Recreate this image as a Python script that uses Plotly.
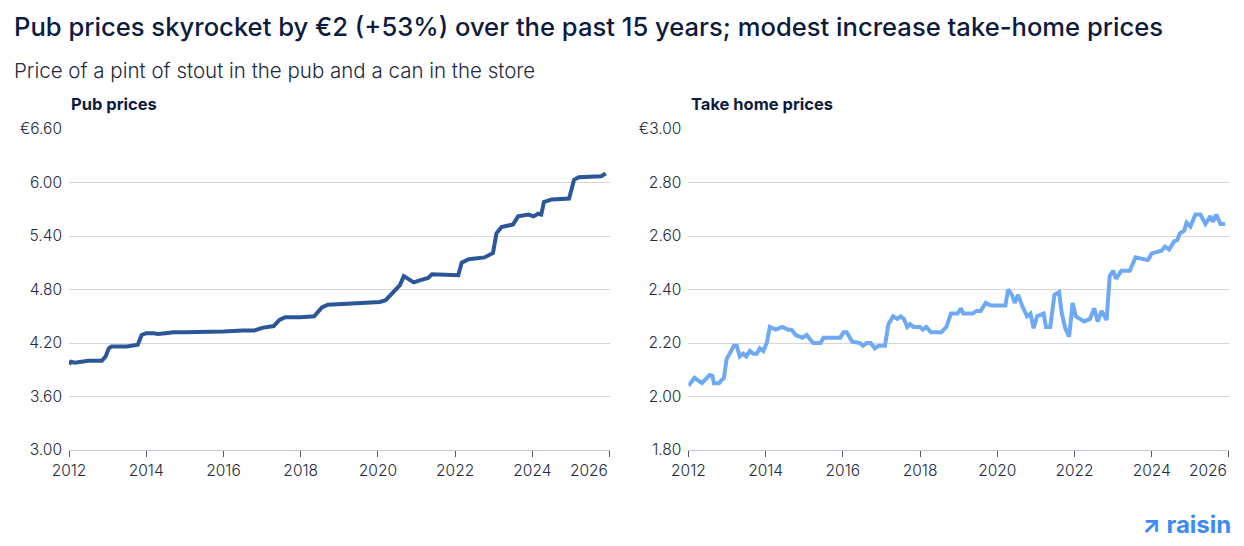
import plotly.graph_objects as go

# ---- data ----
pub_years = [2012.0, 2012.05, 2012.15, 2012.3, 2012.5, 2012.85, 2012.95, 2013.03, 2013.1, 2013.5,
             2013.7, 2013.78, 2013.88, 2014.0, 2014.2, 2014.3, 2014.5, 2014.7, 2015.0, 2015.5,
             2015.8, 2016.0, 2016.5, 2016.8, 2017.0, 2017.3, 2017.45, 2017.6, 2018.0, 2018.35,
             2018.55, 2018.7, 2019.2, 2019.7, 2020.05, 2020.2, 2020.44, 2020.57, 2020.67, 2020.93,
             2021.06, 2021.3, 2021.4, 2021.9, 2022.08, 2022.17, 2022.35, 2022.76, 2022.98, 2023.07,
             2023.2, 2023.5, 2023.63, 2023.9, 2024.03, 2024.15, 2024.23, 2024.3, 2024.5, 2024.95,
             2025.08, 2025.2, 2025.5, 2025.78, 2025.9]
pub_prices = [3.96, 3.99, 3.98, 3.99, 4.00, 4.00, 4.05, 4.14, 4.16, 4.16,
              4.17, 4.18, 4.29, 4.31, 4.31, 4.30, 4.31, 4.32, 4.32, 4.32,
              4.33, 4.33, 4.34, 4.34, 4.37, 4.39, 4.46, 4.49, 4.49, 4.50,
              4.60, 4.63, 4.64, 4.65, 4.66, 4.68, 4.79, 4.85, 4.95, 4.88,
              4.90, 4.93, 4.97, 4.96, 4.96, 5.10, 5.14, 5.16, 5.21, 5.43,
              5.50, 5.53, 5.62, 5.64, 5.62, 5.65, 5.64, 5.78, 5.81, 5.82,
              6.03, 6.06, 6.06, 6.07, 6.10]

home_years = [2012.0, 2012.16, 2012.35, 2012.55, 2012.62, 2012.66, 2012.79, 2012.92, 2012.99, 2013.07,
              2013.18, 2013.25, 2013.33, 2013.42, 2013.5, 2013.59, 2013.68, 2013.77, 2013.85, 2013.94,
              2014.03, 2014.11, 2014.26, 2014.43, 2014.58, 2014.67, 2014.78, 2014.95, 2015.06, 2015.23,
              2015.42, 2015.5, 2015.93, 2016.02, 2016.1, 2016.24, 2016.45, 2016.52, 2016.62, 2016.72,
              2016.83, 2016.92, 2017.09, 2017.18, 2017.3, 2017.41, 2017.5, 2017.58, 2017.67, 2017.74,
              2017.83, 2018.0, 2018.07, 2018.16, 2018.28, 2018.55, 2018.68, 2018.8, 2018.97, 2019.06,
              2019.12, 2019.36, 2019.46, 2019.57, 2019.7, 2019.83, 2020.21, 2020.28, 2020.38, 2020.45,
              2020.54, 2020.64, 2020.77, 2020.86, 2020.94, 2021.03, 2021.2, 2021.26, 2021.37, 2021.48,
              2021.6, 2021.67, 2021.76, 2021.86, 2021.95, 2022.03, 2022.14, 2022.25, 2022.4, 2022.51,
              2022.6, 2022.7, 2022.83, 2022.91, 2023.0, 2023.08, 2023.21, 2023.43, 2023.58, 2023.9,
              2024.0, 2024.15, 2024.25, 2024.34, 2024.45, 2024.58, 2024.66, 2024.73, 2024.84, 2024.9,
              2025.0, 2025.13, 2025.26, 2025.39, 2025.52, 2025.58, 2025.67, 2025.78, 2025.9]
home_prices = [2.04, 2.07, 2.05, 2.08, 2.077, 2.05, 2.05, 2.07, 2.14, 2.16,
               2.19, 2.19, 2.15, 2.16, 2.15, 2.17, 2.16, 2.16, 2.18, 2.17,
               2.20, 2.26, 2.25, 2.26, 2.25, 2.25, 2.23, 2.22, 2.23, 2.20,
               2.20, 2.22, 2.22, 2.24, 2.24, 2.205, 2.20, 2.19, 2.20, 2.20,
               2.18, 2.19, 2.19, 2.27, 2.30, 2.29, 2.30, 2.29, 2.26, 2.27,
               2.26, 2.26, 2.25, 2.26, 2.24, 2.24, 2.26, 2.31, 2.31, 2.33,
               2.31, 2.31, 2.32, 2.32, 2.35, 2.34, 2.34, 2.40, 2.38, 2.35,
               2.38, 2.34, 2.30, 2.31, 2.255, 2.30, 2.31, 2.26, 2.26, 2.38,
               2.39, 2.31, 2.255, 2.224, 2.35, 2.30, 2.29, 2.28, 2.29, 2.33,
               2.28, 2.32, 2.286, 2.45, 2.47, 2.44, 2.47, 2.47, 2.52, 2.51,
               2.535, 2.54, 2.545, 2.56, 2.55, 2.58, 2.585, 2.61, 2.62, 2.65,
               2.635, 2.68, 2.68, 2.645, 2.675, 2.653, 2.68, 2.645, 2.645]

year_ticks = [2012, 2014, 2016, 2018, 2020, 2022, 2024, 2026]
year_labels = ["2012", "2014", "2016", "2018", "2020", "2022", "2024", ""]
pub_ticks = [3.00, 3.60, 4.20, 4.80, 5.40, 6.00, 6.60]
pub_labels = ["3.00", "3.60", "4.20", "4.80", "5.40", "6.00", "€6.60"]
home_ticks = [1.80, 2.00, 2.20, 2.40, 2.60, 2.80, 3.00]
home_labels = ["1.80", "2.00", "2.20", "2.40", "2.60", "2.80", "€3.00"]

# ---- layout geometry (page has an 8px body margin) ----
OFF = 8
W, H = 1236, 538
L, R, T, B = 58, 15, 121, 96
PW, PH = W - L - R, H - T - B
BOTTOM = H - B  # plot bottom in figure px


def px(p):  # screen x -> paper
    return (p - OFF - L) / PW


def py(q):  # screen y -> paper
    return (BOTTOM - (q - OFF)) / PH


NAVY = "#0d1b3e"
TXT = "#222a40"
GRID = "#d3d6de"
FONT = "Inter"

fig = go.Figure()
fig.add_trace(go.Scatter(x=pub_years, y=pub_prices, mode="lines",
                         line=dict(color="#2b5698", width=4), xaxis="x", yaxis="y",
                         hoverinfo="skip", showlegend=False))
fig.add_trace(go.Scatter(x=home_years, y=home_prices, mode="lines",
                         line=dict(color="#6ea9f5", width=4), xaxis="x2", yaxis="y2",
                         hoverinfo="skip", showlegend=False))

tickfont = dict(family=FONT, size=15.5, color=TXT, weight=350)
xcommon = dict(range=[2012, 2026], tickmode="array", tickvals=year_ticks, ticktext=year_labels,
               showgrid=False, zeroline=False, showline=True, linecolor="#c3c7cf", linewidth=1,
               ticks="outside", ticklen=6, tickcolor="#555a63", tickwidth=1,
               tickfont=tickfont, fixedrange=True)
ycommon = dict(tickmode="array", showgrid=True, gridcolor=GRID, gridwidth=1, zeroline=False,
               showline=False, ticks="", tickfont=tickfont, ticklabelstandoff=6,
               fixedrange=True)

fig.update_layout(
    width=W, height=H, margin=dict(l=L, r=R, t=T, b=B),
    paper_bgcolor="white", plot_bgcolor="white",
    xaxis=dict(domain=[0, px(608)], anchor="y", **xcommon),
    yaxis=dict(range=[3.0, 6.6], tickvals=pub_ticks, ticktext=pub_labels, anchor="x", **ycommon),
    xaxis2=dict(domain=[px(687), 1], anchor="y2", **xcommon),
    yaxis2=dict(range=[1.8, 3.0], tickvals=home_ticks, ticktext=home_labels, anchor="x2", **ycommon),
    font=dict(family=FONT, color=TXT),
)

ann = []
ann.append(dict(text="Pub prices skyrocket by €2 (+53%) over the past 15 years; modest increase take-home prices",
                x=px(9), y=py(27), xref="paper", yref="paper", xanchor="left", yanchor="middle",
                showarrow=False, font=dict(family=FONT, size=25.6, color=NAVY, weight=500)))
ann.append(dict(text="Price of a pint of stout in the pub and a can in the store",
                x=px(9), y=py(70), xref="paper", yref="paper", xanchor="left", yanchor="middle",
                showarrow=False, font=dict(family=FONT, size=20.5, color=TXT, weight=300)))
ann.append(dict(text="<b>Pub prices</b>", x=px(66), y=py(104), xref="paper", yref="paper",
                xanchor="left", yanchor="middle", showarrow=False,
                font=dict(family=FONT, size=16.5, color=NAVY)))
ann.append(dict(text="<b>Take home prices</b>", x=px(688), y=py(104), xref="paper", yref="paper",
                xanchor="left", yanchor="middle", showarrow=False,
                font=dict(family=FONT, size=16.5, color=NAVY)))
ann.append(dict(text="2026", x=2026, y=py(470), xref="x", yref="paper", xanchor="right",
                yanchor="middle", showarrow=False, font=tickfont))
ann.append(dict(text="2026", x=2026, y=py(470), xref="x2", yref="paper", xanchor="right",
                yanchor="middle", showarrow=False, font=tickfont))
ann.append(dict(text="<b>↗ raisin</b>", x=px(1233), y=py(524), xref="paper", yref="paper",
                xanchor="right", yanchor="middle", showarrow=False,
                font=dict(family=FONT, size=24, color="#3d8af7")))
fig.update_layout(annotations=ann)

fig.write_html("out.html")
